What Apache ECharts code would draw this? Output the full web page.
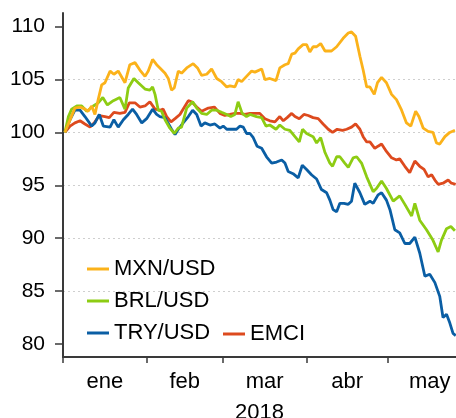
<!DOCTYPE html>
<html>
<head>
<meta charset="utf-8">
<script src="https://cdn.jsdelivr.net/npm/echarts@6/dist/echarts.min.js"></script>
<style>
  html, body { margin: 0; padding: 0; background: #fff; }
  #chart { width: 456px; height: 418px; }
</style>
</head>
<body>
<div id="chart"></div>
<script>
// dias desde el 1 de enero de 2018 (0 = 1 ene)
const monthTicks = [0, 31, 59, 90, 120];
const monthMids = [15.5, 45, 74.5, 105, 135.5];
const monthNames = ['ene', 'feb', 'mar', 'abr', 'may'];
const yTicks = [80, 85, 90, 95, 100, 105, 110];

const mxnDays = [0.7,4.4,6.3,8.1,9.3,10.6,11.8,13.0,14.3,15.5,17.4,18.8,20.4,22.9,24.7,26.6,28.4,30.3,31.5,33.1,34.6,35.8,37.7,38.9,40.1,41.1,42.6,43.8,45.7,48.1,49.7,51.2,53.1,54.9,56.8,58.6,60.5,61.7,63.5,64.7,66.0,67.8,69.7,70.9,73.4,74.6,76.4,78.7,80.1,82.0,83.2,84.5,85.7,86.9,88.7,90.0,91.2,92.4,93.7,95.2,96.8,99.2,101.1,103.5,105.4,106.6,108.1,109.7,110.9,112.2,113.4,115.0,116.2,117.7,119.5,121.4,123.2,125.1,126.9,128.5,130.3,131.5,133.1,134.9,136.7,138.0,139.2,141.1,142.9,144.8];
const mxn = [100.0,102.3,102.4,102.2,102.0,102.5,101.7,103.1,104.5,104.7,105.8,105.5,105.8,104.7,106.4,106.6,105.9,105.3,105.8,106.9,106.4,106.1,105.6,105.1,104.0,104.2,105.8,105.6,106.1,106.5,106.1,105.4,105.5,106.0,105.1,104.8,104.3,104.4,104.3,105.0,104.8,105.3,105.8,105.7,106.0,105.0,105.1,104.9,106.1,106.4,106.5,107.4,107.5,107.9,108.3,108.3,107.6,108.1,108.1,108.4,107.7,107.7,108.1,108.9,109.4,109.5,109.1,107.2,105.9,104.3,104.3,103.6,104.7,105.2,104.7,103.6,103.1,102.1,100.9,100.6,102.0,101.5,100.4,100.1,100.0,99.0,98.9,99.6,100.0,100.2];

const brlDays = [0.7,2.0,3.2,5.1,6.9,8.8,11.2,13.0,14.7,16.4,18.6,21.0,22.9,24.1,26.2,27.8,30.3,32.1,33.1,34.0,35.2,36.4,37.7,39.5,41.1,42.6,43.8,45.7,47.9,49.4,51.2,53.1,54.9,56.8,58.6,60.5,62.0,63.5,64.7,66.2,67.8,69.1,71.5,73.4,75.0,76.4,78.7,80.1,82.0,83.8,85.7,87.3,88.5,90.0,92.4,93.7,95.2,96.8,98.6,99.6,101.1,102.3,104.1,105.4,107.2,108.5,110.3,112.2,114.6,115.8,117.7,119.5,122.0,124.4,126.3,128.8,130.0,131.8,134.3,136.7,138.6,139.8,141.7,143.3,144.8];
const brl = [100.0,101.5,102.2,102.5,102.5,102.0,102.5,102.8,103.3,102.6,103.0,103.3,102.2,104.2,105.1,104.7,104.1,104.0,104.3,103.6,102.1,102.0,101.2,100.4,99.9,100.4,100.5,102.3,102.9,102.3,101.8,101.7,102.1,102.1,101.9,101.7,101.5,101.7,102.9,101.8,101.5,101.7,101.5,101.4,100.6,100.7,100.3,100.7,100.3,100.2,99.6,99.1,100.3,99.9,99.6,99.0,99.5,98.1,97.1,96.8,97.7,97.7,97.1,96.7,97.6,97.7,97.1,95.8,94.4,94.7,95.4,94.7,93.5,94.0,93.2,92.1,93.3,91.7,90.8,89.8,88.7,89.8,90.9,91.1,90.7];

const tryDays = [0.7,2.6,4.4,6.3,8.1,10.6,11.8,13.4,14.9,17.4,18.8,20.4,22.3,24.1,25.7,27.2,29.1,30.9,33.1,34.6,35.8,37.7,40.1,41.4,42.6,44.4,46.3,47.9,49.4,51.0,52.4,54.3,56.1,58.0,59.2,60.5,62.3,64.1,65.4,66.6,67.8,69.1,70.3,71.7,73.4,75.2,77.1,78.9,80.8,82.0,83.2,85.0,86.9,88.4,90.0,91.8,93.7,95.5,97.4,98.6,99.8,101.1,102.3,103.8,105.4,106.6,107.8,109.7,111.5,113.4,114.6,116.4,117.7,119.5,120.8,122.6,124.4,126.3,128.1,130.0,131.8,133.7,135.5,137.4,139.2,140.4,141.7,142.9,144.1,145.1];
const tryVals = [100.0,101.2,102.1,102.1,101.5,100.6,100.9,101.7,100.6,100.5,101.2,100.5,101.2,101.7,102.2,101.7,100.9,101.3,102.2,101.7,101.5,101.4,100.3,99.8,100.3,100.9,101.5,102.1,101.7,100.6,100.9,100.7,100.8,100.4,100.6,100.3,100.3,100.3,100.6,100.5,99.9,99.9,99.5,98.7,98.5,97.7,97.1,97.2,97.4,97.1,96.3,96.1,95.7,96.9,96.5,96.0,95.6,94.6,94.3,93.6,92.7,92.5,93.3,93.3,93.2,93.5,95.2,94.3,93.2,93.5,93.3,94.1,94.3,93.6,92.7,90.8,90.5,89.5,89.5,90.1,88.6,86.4,86.6,85.8,84.5,82.5,82.8,82.0,81.0,80.8];

const emciDays = [0.7,2.6,4.4,6.3,8.1,10.0,11.8,13.4,15.5,17.1,18.8,21.0,22.9,24.5,26.6,28.4,30.3,32.1,34.0,35.8,37.0,38.3,39.9,41.4,43.2,45.1,46.3,47.5,49.4,51.2,53.7,55.9,58.0,59.8,61.7,63.5,65.4,67.2,69.1,70.9,72.7,74.6,76.4,78.3,80.1,81.4,82.8,84.5,85.7,87.3,89.0,90.6,92.4,94.3,96.1,98.0,99.6,101.3,103.3,104.8,106.6,108.1,109.7,110.9,112.2,113.4,115.2,116.4,117.7,119.5,121.4,123.2,124.4,126.3,128.1,130.0,131.8,133.4,134.9,136.2,137.4,138.6,140.4,142.3,143.5,145.1];
const emci = [100.0,100.6,100.9,101.1,100.8,100.5,101.0,101.6,101.5,101.4,101.9,101.8,101.9,102.8,102.8,102.4,102.5,102.9,102.2,102.1,102.2,101.5,101.0,101.3,101.7,102.5,103.0,102.9,102.4,102.0,102.3,102.4,101.8,101.6,101.7,101.8,101.8,101.7,101.8,101.8,101.8,101.3,101.1,101.0,101.5,101.1,101.4,101.8,101.5,101.3,101.7,101.6,101.4,101.3,100.8,100.3,100.0,100.3,100.2,100.3,100.5,100.8,100.3,99.6,99.1,99.1,98.5,98.7,98.9,98.2,97.6,97.4,97.5,96.8,96.2,97.3,96.8,96.5,95.8,96.0,95.5,95.1,95.2,95.5,95.2,95.1];

const FONT = '"Liberation Sans", Arial, sans-serif';

function pairs(days, vals) {
  return days.map((d, i) => [d, vals[i]]);
}

function lineSeries(name, color, days, vals) {
  return {
    name: name,
    type: 'line',
    data: pairs(days, vals),
    showSymbol: false,
    symbol: 'none',
    lineStyle: { color: color, width: 2.8 },
    itemStyle: { color: color },
    z: 2
  };
}

const myChart = echarts.init(document.getElementById('chart'));
const legendBase = {
  orient: 'vertical',
  icon: 'rect',
  itemWidth: 22,
  itemHeight: 3,
  itemGap: 10,
  textStyle: { color: '#000', fontSize: 22, fontFamily: FONT },
  selectedMode: false
};

const option = {
  animation: false,
  // sin ajuste automatico del grid a las etiquetas
  grid: { left: 63, right: 0, top: 13, bottom: 61, outerBoundsMode: 'none', containLabel: false },
  legend: [
    Object.assign({}, legendBase, { left: 82, top: 253, data: ['MXN/USD', 'BRL/USD', 'TRY/USD'] }),
    Object.assign({}, legendBase, { left: 218, top: 318, data: ['EMCI'] })
  ],
  xAxis: {
    type: 'value',
    min: 0,
    max: 145.2,
    name: '2018',
    nameLocation: 'middle',
    nameGap: 45,
    nameTextStyle: { color: '#000', fontSize: 22, fontFamily: FONT },
    axisLine: { onZero: false, lineStyle: { color: '#3a3a3a', width: 2 } },
    axisTick: { show: true, length: 6, customValues: monthTicks, lineStyle: { color: '#3a3a3a', width: 1.5 } },
    axisLabel: {
      customValues: monthMids,
      margin: 14,
      color: '#000',
      fontSize: 22,
      fontFamily: FONT,
      formatter: function (v) {
        return monthNames[monthMids.indexOf(v)];
      }
    },
    splitLine: { show: false }
  },
  yAxis: {
    type: 'value',
    min: 78.77,
    max: 111.29,
    axisLine: { show: true, lineStyle: { color: '#3a3a3a', width: 2 } },
    axisTick: { show: true, length: 8, customValues: yTicks, lineStyle: { color: '#3a3a3a', width: 1.5 } },
    axisLabel: {
      customValues: yTicks,
      margin: 18,
      color: '#000',
      fontSize: 21,
      fontFamily: FONT
    },
    splitLine: {
      show: true,
      showMinLine: false,
      showMaxLine: false,
      lineStyle: { color: '#cfcfcf', width: 1, type: [2, 3] }
    }
  },
  series: [
    lineSeries('EMCI', '#DD4A1E', emciDays, emci),
    lineSeries('TRY/USD', '#0A5EA4', tryDays, tryVals),
    lineSeries('BRL/USD', '#8DCC13', brlDays, brl),
    lineSeries('MXN/USD', '#FBB21A', mxnDays, mxn)
  ]
};

myChart.setOption(option);
window.addEventListener('resize', function () {
  myChart.resize();
});
</script>
</body>
</html>
